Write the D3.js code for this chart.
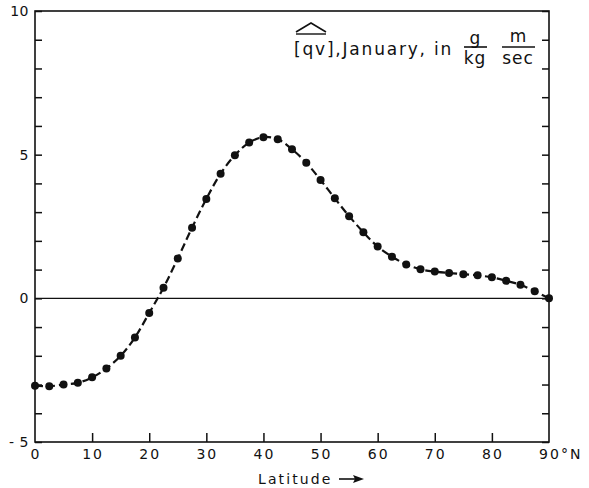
<!DOCTYPE html>
<html><head><meta charset="utf-8">
<script src="https://cdn.jsdelivr.net/npm/d3@7"></script>
<style>body{margin:0;background:#fff}svg{display:block}text{font-family:"DejaVu Sans",sans-serif;fill:#111;white-space:pre}</style>
</head><body><svg id="c" width="589" height="488"></svg>
<script>
const latitudes = [0,2.5,5,7.5,10,12.5,15,17.5,20,22.5,25,27.5,30,32.5,35,37.5,40,42.5,45,47.5,50,52.5,55,57.5,60,62.5,65,67.5,70,72.5,75,77.5,80,82.5,85,87.5,90];
const qvValues = [-3.04,-3.06,-3.0,-2.94,-2.75,-2.44,-2.0,-1.36,-0.51,0.37,1.39,2.46,3.46,4.34,4.98,5.42,5.61,5.54,5.19,4.72,4.12,3.48,2.86,2.30,1.80,1.45,1.18,1.01,0.93,0.88,0.84,0.80,0.73,0.61,0.47,0.25,0.0];
const xTickValues = [0,10,20,30,40,50,60,70,80,90];
const xTickLabels = ["0","10","20","30","40","50","60","70","80","90"];
const yTickValues = [-5,0,5,10];
const yTickLabels = ["- 5","0","5","10"];
const yMinorTicks = [-5,-4,-3,-2,-1,0,1,2,3,4,5,6,7,8,9,10];

const svg = d3.select("#c");
const x = d3.scaleLinear().domain([0,90]).range([35,549]);
const y = d3.scaleLinear().domain([-5,10]).range([442,11]);
const ink = "#111";

// frame
svg.append("rect").attr("x",x(0)).attr("y",y(10)).attr("width",x(90)-x(0)).attr("height",y(-5)-y(10))
  .attr("fill","none").attr("stroke",ink).attr("stroke-width",1.6);

// zero line
svg.append("line").attr("x1",x(0)).attr("x2",x(90)).attr("y1",y(0)).attr("y2",y(0))
  .attr("stroke",ink).attr("stroke-width",1.4);

// left & right minor ticks (inward)
const gl = svg.append("g").attr("transform",`translate(${x(0)},0)`)
  .call(d3.axisRight(y).tickValues(yMinorTicks).tickSize(7).tickFormat(""));
const gr = svg.append("g").attr("transform",`translate(${x(90)},0)`)
  .call(d3.axisLeft(y).tickValues(yMinorTicks).tickSize(7).tickFormat(""));
// bottom ticks inward
const gb = svg.append("g").attr("transform",`translate(0,${y(-5)})`)
  .call(d3.axisTop(x).tickValues(xTickValues.slice(1,-1)).tickSize(9).tickFormat(""));
[gl,gr,gb].forEach(g=>{g.select(".domain").remove();g.selectAll("line").attr("stroke",ink).attr("stroke-width",1.5);});

// y labels
svg.selectAll(".yl").data(yTickValues).enter().append("text")
  .attr("x",29).attr("y",d=>y(d)+5).attr("text-anchor","end")
  .attr("font-size",14).attr("letter-spacing",0.5)
  .text((d,i)=>yTickLabels[i]);

// x labels
svg.selectAll(".xl").data(xTickValues).enter().append("text")
  .attr("x",d=>x(d)+1).attr("y",459).attr("text-anchor","middle")
  .attr("font-size",14).attr("letter-spacing",2)
  .text((d,i)=>xTickLabels[i]);
svg.append("text").attr("x",x(90)+12).attr("y",459).attr("font-size",14).attr("letter-spacing",2).text("°N");

// axis title
svg.append("text").attr("x",258).attr("y",484).attr("font-size",14).attr("letter-spacing",2.1).text("Latitude");
svg.append("line").attr("x1",339).attr("x2",356).attr("y1",479).attr("y2",479).attr("stroke",ink).attr("stroke-width",1.6);
svg.append("path").attr("d","M364,479 L353,475 L355,479 L353,483 Z").attr("fill",ink);

// curve
const line = d3.line().x((d,i)=>x(latitudes[i])).y(d=>y(d)).curve(d3.curveCatmullRom.alpha(0.5));
svg.append("path").datum(qvValues).attr("d",line).attr("fill","none").attr("stroke",ink)
  .attr("stroke-width",2.2).attr("stroke-dasharray","8,4");
svg.selectAll(".pt").data(qvValues).enter().append("circle")
  .attr("cx",(d,i)=>x(latitudes[i])).attr("cy",d=>y(d)).attr("r",4).attr("fill",ink);

// title
const t = svg.append("g");
t.append("text").attr("x",294).attr("y",55).attr("font-size",17).attr("letter-spacing",1.8).text("[qv],January, in");
t.append("path").attr("d","M296,32 L311,23 L326,32").attr("fill","none").attr("stroke",ink).attr("stroke-width",1.6);
t.append("line").attr("x1",296).attr("x2",326).attr("y1",34).attr("y2",34).attr("stroke",ink).attr("stroke-width",1.4);
// fractions
t.append("text").attr("x",475).attr("y",44).attr("text-anchor","middle").attr("font-size",17).text("g");
t.append("line").attr("x1",464).attr("x2",487).attr("y1",47).attr("y2",47).attr("stroke",ink).attr("stroke-width",1.6);
t.append("text").attr("x",475).attr("y",64).attr("text-anchor","middle").attr("font-size",17).attr("letter-spacing",1).text("kg");
t.append("text").attr("x",518).attr("y",42).attr("text-anchor","middle").attr("font-size",17).text("m");
t.append("line").attr("x1",502).attr("x2",535).attr("y1",47).attr("y2",47).attr("stroke",ink).attr("stroke-width",1.6);
t.append("text").attr("x",518).attr("y",64).attr("text-anchor","middle").attr("font-size",17).attr("letter-spacing",1).text("sec");
</script></body></html>
